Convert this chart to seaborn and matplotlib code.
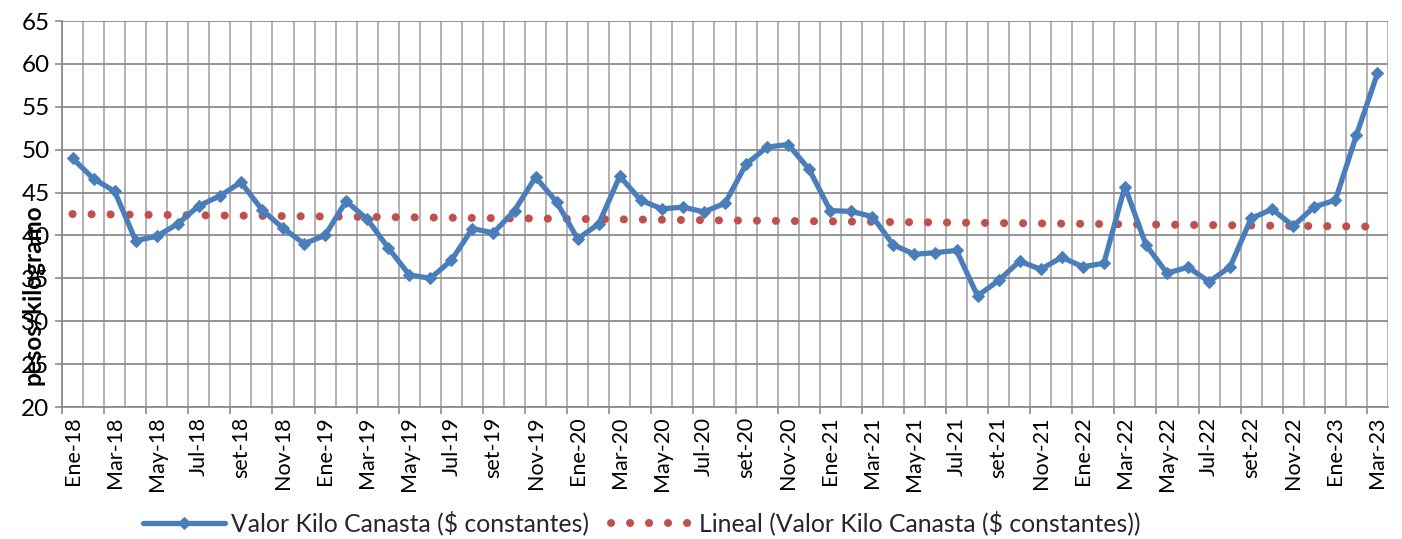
import numpy as np
import pandas as pd
import matplotlib
matplotlib.use("Agg")
import matplotlib.pyplot as plt
import seaborn as sns
from matplotlib.ticker import FixedLocator

months = ["Ene", "Feb", "Mar", "Abr", "May", "Jun", "Jul", "Ago", "set", "Oct", "Nov", "Dic"]
periods = [f"{months[m]}-{y:02d}" for y in range(18, 24) for m in range(12)][:63]

valor = [49.0, 46.6, 45.15, 39.4, 39.9, 41.35, 43.45, 44.6, 46.2, 43.0,
         40.85, 39.05, 40.0, 44.0, 41.9, 38.55, 35.4, 35.0, 37.1, 40.8,
         40.3, 42.9, 46.8, 43.9, 39.6, 41.35, 46.9, 44.1, 43.1, 43.3,
         42.75, 43.75, 48.3, 50.3, 50.6, 47.7, 42.9, 42.8, 42.2, 38.9,
         37.8, 38.0, 38.25, 32.95, 34.75, 37.0, 36.05, 37.45, 36.35, 36.75,
         45.7, 38.9, 35.6, 36.3, 34.6, 36.35, 42.0, 43.05, 41.1, 43.35,
         44.1, 51.7, 58.9]

yticks = list(range(20, 70, 5))
serie_name = "Valor Kilo Canasta ($ constantes)"
trend_name = "Lineal (Valor Kilo Canasta ($ constantes))"
ylabel = "pesos/kilogramo"

df = pd.DataFrame({"idx": np.arange(len(valor)), "periodo": periods, "valor": valor})
coef = np.polyfit(df["idx"], df["valor"], 1)
df["trend"] = np.polyval(coef, df["idx"])

sns.set_theme(style="white")
plt.rcParams["font.family"] = ["Lato", "DejaVu Sans"]

BLUE = "#4A7EBB"
RED = "#C0504D"

fig = plt.figure(figsize=(14.02, 5.39), dpi=100)
ax = fig.add_axes([62 / 1402, 1 - 407 / 539, 1326 / 1402, 386 / 539])

sns.lineplot(data=df, x="idx", y="trend", ax=ax, color=RED, linewidth=5.8,
             linestyle=(0, (0.01, 2.35)), dash_capstyle="round", label=trend_name,
             zorder=3)
sns.lineplot(data=df, x="idx", y="valor", ax=ax, color=BLUE, linewidth=3.8,
             marker="D", markersize=6.5, markeredgecolor=BLUE, label=serie_name,
             zorder=4)

n = len(valor)
ax.set_xlim(-0.5, n - 0.5)
ax.set_ylim(20, 65)
ax.set_yticks(yticks)
ax.set_yticklabels([str(v) for v in yticks], fontsize=17.5, color="#000000")

# category labels at every other month
ax.set_xticks(np.arange(0, n, 2))
ax.set_xticklabels(periods[::2], rotation=90, fontsize=15.5, color="#000000")
ax.tick_params(axis="x", which="major", length=0, pad=7)
ax.xaxis.set_minor_locator(FixedLocator(np.arange(-0.5, n, 1)))
ax.tick_params(axis="x", which="minor", length=0)
ax.grid(False)
ax.grid(True, axis="x", which="minor", color="#ADADAD", linewidth=1.3)
ax.grid(True, axis="y", which="major", color="#8C8C8C", linewidth=1.3)
ax.tick_params(axis="y", which="major", length=5, width=1.2, color="#8C8C8C", left=True, pad=4)

sec = ax.secondary_xaxis("bottom")
sec.set_xticks(np.arange(-0.5, n, 2))
sec.set_xticklabels([])
sec.tick_params(length=5, width=1.2, color="#8C8C8C")
sec.spines["bottom"].set_visible(False)

for s in ["top", "right"]:
    ax.spines[s].set_visible(False)
for s in ["left", "bottom"]:
    ax.spines[s].set_color("#8C8C8C")
    ax.spines[s].set_linewidth(1.3)

ax.set_xlabel("")
ax.set_ylabel(ylabel, fontsize=17.5, fontweight="bold", color="#000000")
ax.yaxis.set_label_coords(-0.013, 0.29)

handles, labels = ax.get_legend_handles_labels()
ax.get_legend().remove()
order = [labels.index(serie_name), labels.index(trend_name)]
fig.legend([handles[i] for i in order], [labels[i] for i in order],
           loc="center", bbox_to_anchor=(642 / 1402, 1 - 523 / 539), ncol=2,
           frameon=False, fontsize=17.8, handlelength=3.3, columnspacing=0.9,
           handletextpad=0.25)

fig.savefig("out.png", dpi=100)
